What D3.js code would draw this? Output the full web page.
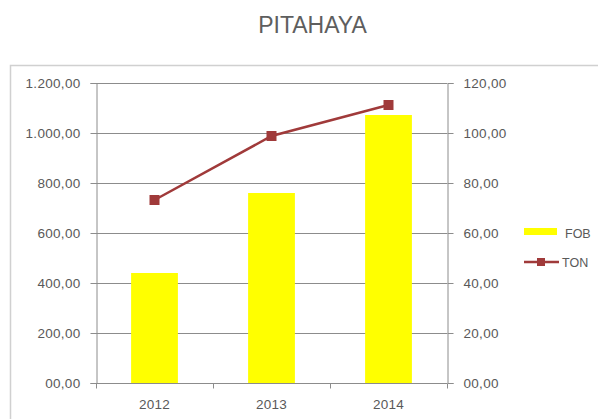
<!DOCTYPE html>
<html>
<head>
<meta charset="utf-8">
<script src="https://cdn.jsdelivr.net/npm/d3@7"></script>
<style>
  html, body { margin: 0; padding: 0; background: #fff; }
  svg { display: block; }
  text { font-family: "Liberation Sans", Arial, sans-serif; }
</style>
</head>
<body>
<svg id="chart" width="598" height="419"></svg>
<script>
// Pitahaya exports by year: FOB value (left axis) and tonnes (right axis)
const years = ["2012", "2013", "2014"];
const fobValues = [440, 760, 1072];
const tonValues = [73.2, 98.8, 111.2];
const fobTicks = [0, 200, 400, 600, 800, 1000, 1200];
const tonTicks = [0, 20, 40, 60, 80, 100, 120];
const seriesNames = ["FOB", "TON"];

const svg = d3.select("#chart");
const W = 598, H = 419;
const margin = { left: 96, right: 151, top: 83, bottom: 36 };
const x0 = margin.left, x1 = W - margin.right;
const y0 = H - margin.bottom, y1 = margin.top;

// Spanish-style number formatting: 1.200,00 and two-digit zero "00,00"
const fmt = v => {
  if (v === 0) return "00,00";
  const s = d3.format(",.2f")(v);
  return s.replace(/,/g, "#").replace(/\./g, ",").replace(/#/g, ".");
};

const x = d3.scaleBand().domain(years).range([x0, x1]).paddingInner(0.6).paddingOuter(0.3);
const yL = d3.scaleLinear().domain([0, 1200]).range([y0, y1]);
const yR = d3.scaleLinear().domain([0, 120]).range([y0, y1]);

const axisColor = "#8c8c8c";
const labelColor = "#595959";
const tickFont = 13.5;

// Outer chart-area frame
svg.append("rect")
  .attr("x", 10.5).attr("y", 65.5)
  .attr("width", 600).attr("height", 400)
  .attr("fill", "none").attr("stroke", "#d0d0d0").attr("stroke-width", 1.5);

// Title
svg.append("text")
  .attr("x", 312.5).attr("y", 33)
  .attr("text-anchor", "middle")
  .attr("font-size", 23)
  .attr("fill", "#5e5e5e")
  .text("PITAHAYA");

// Horizontal gridlines
svg.append("g").selectAll("line").data(fobTicks).join("line")
  .attr("x1", x0).attr("x2", x1)
  .attr("y1", d => Math.round(yL(d)) + 0.5).attr("y2", d => Math.round(yL(d)) + 0.5)
  .attr("stroke", axisColor).attr("stroke-width", 1);

function styleAxis(g) {
  g.select(".domain").attr("stroke", axisColor);
  g.selectAll(".tick line").attr("stroke", axisColor);
  g.selectAll("text").attr("fill", labelColor).attr("font-size", tickFont)
    .attr("letter-spacing", 0.3)
    .attr("font-family", "'Liberation Sans', Arial, sans-serif");
}

// Left axis
svg.append("g")
  .attr("transform", `translate(${x0 + 0.5},0)`)
  .call(d3.axisLeft(yL).tickValues(fobTicks).tickFormat(fmt).tickSize(6).tickPadding(10))
  .call(styleAxis);

// Right axis
svg.append("g")
  .attr("transform", `translate(${x1 + 0.5},0)`)
  .call(d3.axisRight(yR).tickValues(tonTicks).tickFormat(fmt).tickSize(6).tickPadding(10))
  .call(styleAxis);

// Bars (FOB)
svg.append("g").selectAll("rect").data(years).join("rect")
  .attr("x", d => x(d))
  .attr("width", x.bandwidth())
  .attr("y", (d, i) => yL(fobValues[i]))
  .attr("height", (d, i) => yL(0) - yL(fobValues[i]))
  .attr("fill", "#ffff00");

// Bottom axis with ticks at category boundaries
const bottom = svg.append("g").attr("transform", `translate(0,${y0 + 0.5})`);
bottom.append("line").attr("x1", x0).attr("x2", x1).attr("stroke", axisColor);
const bounds = d3.range(years.length + 1).map(i => x0 + i * (x1 - x0) / years.length);
bottom.selectAll("line.tk").data(bounds).join("line").attr("class", "tk")
  .attr("x1", d => Math.round(d) + 0.5).attr("x2", d => Math.round(d) + 0.5)
  .attr("y1", 0).attr("y2", 5).attr("stroke", axisColor);
bottom.selectAll("text").data(years).join("text")
  .attr("x", d => x(d) + x.bandwidth() / 2)
  .attr("y", 25)
  .attr("text-anchor", "middle")
  .attr("font-size", tickFont).attr("letter-spacing", 0.3).attr("fill", labelColor)
  .text(d => d);

// Line (TON)
const lineColor = "#a03a3a";
const line = d3.line()
  .x((d, i) => x(years[i]) + x.bandwidth() / 2)
  .y(d => yR(d));
svg.append("path").datum(tonValues)
  .attr("d", line).attr("fill", "none")
  .attr("stroke", lineColor).attr("stroke-width", 2.5);
svg.append("g").selectAll("rect").data(tonValues).join("rect")
  .attr("x", (d, i) => x(years[i]) + x.bandwidth() / 2 - 5)
  .attr("y", d => yR(d) - 5)
  .attr("width", 10).attr("height", 10)
  .attr("fill", lineColor);

// Legend
const lg = svg.append("g");
lg.append("rect").attr("x", 524).attr("y", 228).attr("width", 33).attr("height", 7).attr("fill", "#ffff00");
lg.append("text").attr("x", 565).attr("y", 237.5).attr("font-size", 12.5).attr("fill", labelColor).text(seriesNames[0]);
lg.append("line").attr("x1", 524).attr("x2", 559).attr("y1", 262).attr("y2", 262)
  .attr("stroke", lineColor).attr("stroke-width", 2.5);
lg.append("rect").attr("x", 537).attr("y", 258).attr("width", 8).attr("height", 8).attr("fill", lineColor);
lg.append("text").attr("x", 562).attr("y", 266.5).attr("font-size", 12.5).attr("fill", labelColor).text(seriesNames[1]);
</script>
</body>
</html>
